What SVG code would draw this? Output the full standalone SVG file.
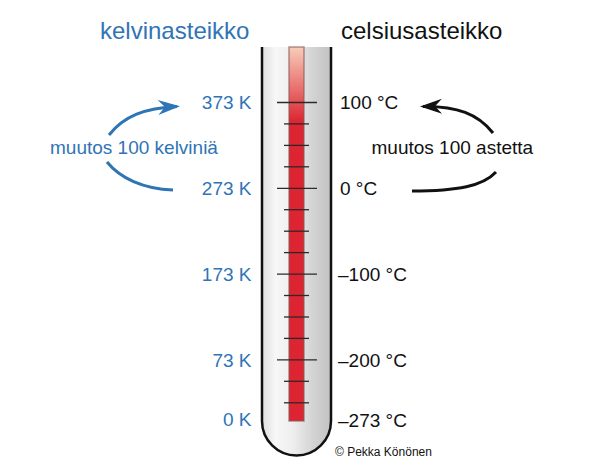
<svg xmlns="http://www.w3.org/2000/svg" width="609" height="471" viewBox="0 0 609 471">
<style>
text{font-family:"Liberation Sans",Arial,sans-serif}
.title{font-size:24px}
.lab{font-size:19px}
.blue{fill:#2f74b5}
.blk{fill:#111}
.tick{stroke:#2a2a2a;stroke-width:1.3}
.arrB{fill:none;stroke:#2f74b5;stroke-width:3}
.arrK{fill:none;stroke:#111;stroke-width:3}
</style>
<defs>
<linearGradient id="tubeG" x1="0" y1="0" x2="1" y2="0">
<stop offset="0" stop-color="#dedede"/>
<stop offset="0.2" stop-color="#f7f7f7"/>
<stop offset="0.45" stop-color="#eeeeee"/>
<stop offset="0.75" stop-color="#d2d2d2"/>
<stop offset="1" stop-color="#c2c2c2"/>
</linearGradient>
<linearGradient id="colG" x1="0" y1="47" x2="0" y2="122" gradientUnits="userSpaceOnUse">
<stop offset="0" stop-color="#f7cdb9"/>
<stop offset="1" stop-color="#dc2530"/>
</linearGradient>
<marker id="hB" markerUnits="userSpaceOnUse" viewBox="-24 -10 26 20" refX="-3" refY="0" markerWidth="26" markerHeight="20" orient="auto">
<path d="M0,0 L-22,-7.5 L-15,0 L-22,7.5 Z" fill="#2f74b5"/>
</marker>
<marker id="hK" markerUnits="userSpaceOnUse" viewBox="-24 -10 26 20" refX="-3" refY="0" markerWidth="26" markerHeight="20" orient="auto">
<path d="M0,0 L-22,-7.5 L-15,0 L-22,7.5 Z" fill="#111"/>
</marker>
</defs>
<rect width="609" height="471" fill="#fff"/>

<g id="thermometer">
<path d="M262,47 L262,421 A34.5,34.5 0 0 0 331,421 L331,47" fill="url(#tubeG)" stroke="#111" stroke-width="2.5"/>
<rect x="289" y="47" width="15" height="374" fill="url(#colG)" stroke="#8a5a5a" stroke-opacity="0.7" stroke-width="1.4"/>
<g id="ticks">
<line class="tick" x1="277" x2="317" y1="102.5" y2="102.5"/>
<line class="tick" x1="284" x2="309" y1="123.9" y2="123.9"/>
<line class="tick" x1="284" x2="309" y1="145.4" y2="145.4"/>
<line class="tick" x1="284" x2="309" y1="166.8" y2="166.8"/>
<line class="tick" x1="277" x2="317" y1="188.3" y2="188.3"/>
<line class="tick" x1="284" x2="309" y1="209.7" y2="209.7"/>
<line class="tick" x1="284" x2="309" y1="231.2" y2="231.2"/>
<line class="tick" x1="284" x2="309" y1="252.6" y2="252.6"/>
<line class="tick" x1="277" x2="317" y1="274.1" y2="274.1"/>
<line class="tick" x1="284" x2="309" y1="295.5" y2="295.5"/>
<line class="tick" x1="284" x2="309" y1="317" y2="317"/>
<line class="tick" x1="284" x2="309" y1="338.4" y2="338.4"/>
<line class="tick" x1="277" x2="317" y1="359.9" y2="359.9"/>
<line class="tick" x1="284" x2="309" y1="381.3" y2="381.3"/>
<line class="tick" x1="284" x2="309" y1="402.8" y2="402.8"/>
</g>
</g>

<g id="kelvin-scale">
<text class="title blue" x="100" y="39">kelvinasteikko</text>
<g text-anchor="end">
<text class="lab blue" x="251.5" y="109.3">373 K</text>
<text class="lab blue" x="251.5" y="195">273 K</text>
<text class="lab blue" x="251.5" y="280.8">173 K</text>
<text class="lab blue" x="251.5" y="366.6">73 K</text>
<text class="lab blue" x="251.5" y="425.7">0 K</text>
</g>
<text class="lab blue" x="50" y="153.5">muutos 100 kelviniä</text>
</g>

<g id="celsius-scale">
<text class="title blk" x="341" y="39">celsiusasteikko</text>
<text class="lab blk" x="340" y="109.3">100 °C</text>
<text class="lab blk" x="340" y="195">0 °C</text>
<text class="lab blk" x="338" y="280.8">–100 °C</text>
<text class="lab blk" x="338" y="366.6">–200 °C</text>
<text class="lab blk" x="338" y="426.5">–273 °C</text>
<text class="lab blk" x="371.5" y="154">muutos 100 astetta</text>
</g>

<g id="connectors">
<path class="arrB" d="M109,135 C124,116 145,108 177,106.5" marker-end="url(#hB)"/>
<path class="arrB" d="M107,162 C120,178 143,189 173,190"/>
<path class="arrK" d="M493,133 C478,114 457,106 423,106.5" marker-end="url(#hK)"/>
<path class="arrK" d="M496,172 C483,186 458,191 412,191"/>
</g>

<text x="335" y="455.5" font-size="12" fill="#111">© Pekka Könönen</text>
</svg>
